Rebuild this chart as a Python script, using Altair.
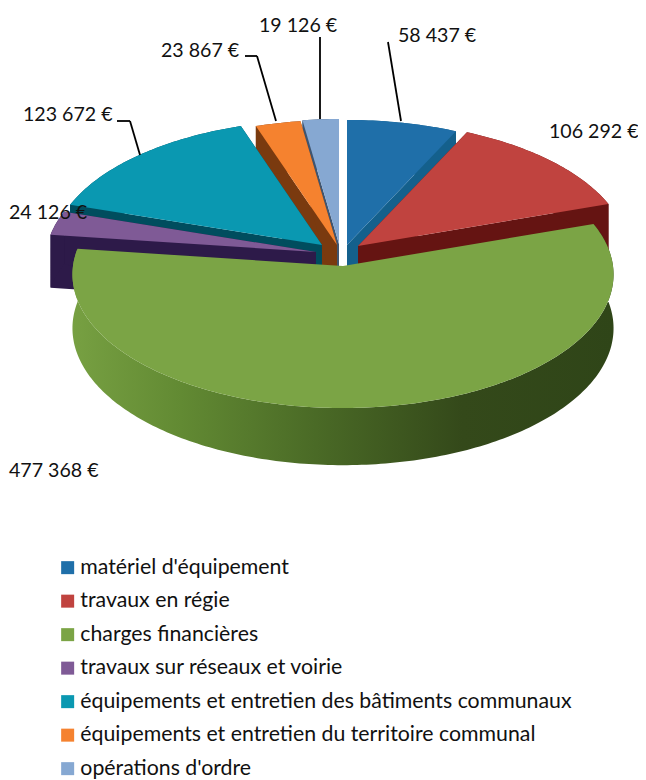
import math
import altair as alt

categories = ["matériel d'équipement", "travaux en régie", "charges financières",
              "travaux sur réseaux et voirie",
              "équipements et entretien des bâtiments communaux",
              "équipements et entretien du territoire communal", "opérations d'ordre"]
amounts = [58437, 106292, 477368, 24126, 123672, 23867, 19126]
top_colors = ["#1f6fa9", "#c0433f", "#7ba445", "#7f5a96", "#0a98b1", "#f5822f", "#86a8d2"]
side_colors = ["#14608c", "#651412", "#3a5320", "#2d1a49", "#004d5e", "#7a3a0f", "#3f5570"]

# --- layout of the drawing (page pixels) ---
APEX = [(347, 245), (358, 246), (343, 266), (316, 252), (322, 245), (337, 245), (339, 244)]
RX, RY, K, DEPTH = 270, 133, 0.0636, 53.5
PAINT_ORDER = [6, 5, 0, 4, 1, 3]


def project(apex, theta, drop=False):
    u, v = math.sin(theta), math.cos(theta)
    w = 1 + K * v
    return [apex[0] + RX * u / w, apex[1] - RY * v / w + (DEPTH / w if drop else 0)]


def feature(ring, key):
    ring = ring + [ring[0]]
    return {"type": "Feature", "properties": {"key": key},
            "geometry": {"type": "Polygon", "coordinates": [ring]}}


def rim(apex, a, b, drop=False):
    n = max(8, int(abs(b - a) * 60))
    return [project(apex, a + (b - a) * i / n, drop) for i in range(n + 1)]


def foot(apex):
    return [apex[0], apex[1] + DEPTH]


def collection(features):
    return alt.InlineData(values={"type": "FeatureCollection", "features": features},
                          format=alt.DataFormat(property="features", type="json"))


total = sum(amounts)
starts, acc = [], 0.0
for v in amounts:
    starts.append(acc)
    acc += v / total * 2 * math.pi

back_faces = []
for i in PAINT_ORDER:
    a, b = starts[i], starts[i] + amounts[i] / total * 2 * math.pi
    ap = APEX[i]
    key = "side " + categories[i]
    for t in (a, b):
        back_faces.append(feature([list(ap), project(ap, t), project(ap, t, True), foot(ap)], key))
    back_faces.append(feature(rim(ap, a, b) + rim(ap, b, a, True), key))
    back_faces.append(feature([list(ap)] + rim(ap, a, b), categories[i]))

g_a, g_b = starts[2], starts[2] + amounts[2] / total * 2 * math.pi
green_wall = [feature(rim(APEX[2], g_a, g_b) + rim(APEX[2], g_b, g_a, True), "wall")]
green_top = [feature([list(APEX[2])] + rim(APEX[2], g_a, g_b), categories[2])]

PROJ = dict(type="identity", scale=1, translate=[-8, -8])
color = alt.Color("properties.key:N",
                  scale=alt.Scale(domain=categories + ["side " + c for c in categories],
                                  range=top_colors + side_colors),
                  legend=alt.Legend(values=categories, title=None, orient="none",
                                    legendX=49, legendY=549, padding=0,
                                    symbolType="square", symbolSize=169, symbolStrokeWidth=0,
                                    symbolOpacity=1, labelFont="Lato", labelFontSize=21.3,
                                    labelColor="#111111", labelLimit=600, labelOffset=2,
                                    rowPadding=11.5))

layers = [
    alt.Chart(collection(back_faces)).mark_geoshape(strokeWidth=0).encode(color=color).project(**PROJ),
    alt.Chart(collection(green_wall)).mark_geoshape(
        strokeWidth=0,
        fill=alt.Gradient(gradient="linear", x1=0, x2=1, y1=0, y2=0,
                          stops=[alt.GradientStop(offset=0, color="#77a042"),
                                 alt.GradientStop(offset=0.2, color="#628a33"),
                                 alt.GradientStop(offset=0.45, color="#4a6a26"),
                                 alt.GradientStop(offset=0.72, color="#34491a"),
                                 alt.GradientStop(offset=1, color="#2f4518")])).project(**PROJ),
    alt.Chart(collection(green_top)).mark_geoshape(strokeWidth=0).encode(color=color).project(**PROJ),
]

# leader lines (page pixels)
LEADERS = [
    [(117, 121), (130, 121), (140, 155)],
    [(245, 56), (257, 56), (276, 121)],
    [(320, 37), (320, 119)],
    [(388, 42), (401, 121)],
]
for path in LEADERS:
    for (x0, y0), (x1, y1) in zip(path, path[1:]):
        layers.append(alt.Chart().mark_rule(color="#000000", strokeWidth=1.8).encode(
            x=alt.value(x0 - 8), x2=alt.value(x1 - 8), y=alt.value(y0 - 8), y2=alt.value(y1 - 8)))

# value labels: left edge and vertical centre (page pixels)
LABEL_POS = [(398, 36), (549, 132), (9, 471), (9, 213), (23, 115), (161, 51), (259, 26)]
for v, (x, y) in zip(amounts, LABEL_POS):
    text = f"{v:,}".replace(",", " ") + " €"
    layers.append(alt.Chart().mark_text(font="Lato", fontSize=19.6, align="left", baseline="middle",
                                        color="#111111").encode(
        x=alt.value(x - 8), y=alt.value(y - 8), text=alt.value(text)))

chart = alt.layer(*layers).properties(
    width=630, height=772, padding=0, autosize=alt.AutoSizeParams(type="none")
).configure_view(stroke=None)

chart.save("out.html", embed_options={"renderer": "svg", "actions": False})
